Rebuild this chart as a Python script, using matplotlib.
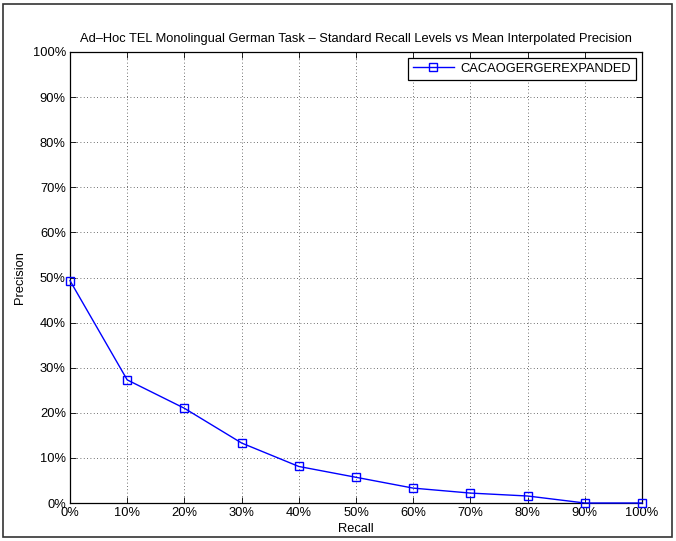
import matplotlib.pyplot as plt
from matplotlib.patches import Rectangle
from matplotlib.ticker import FuncFormatter

plt.rcParams['font.family'] = ['Liberation Sans', 'DejaVu Sans']

recall = [0, 10, 20, 30, 40, 50, 60, 70, 80, 90, 100]
precision = [49.3, 27.3, 21.0, 13.3, 8.1, 5.7, 3.3, 2.2, 1.55, 0.0, 0.0]
run_name = 'CACAOGERGEREXPANDED'

fig = plt.figure(figsize=(6.76, 5.41), dpi=100)
ax = fig.add_axes([70 / 676, 1 - 503 / 541, 572 / 676, 451 / 541])

ax.plot(recall, precision, color='b', linewidth=1.0, marker='s', markersize=6,
        markerfacecolor='none', markeredgecolor='b', markeredgewidth=1.0,
        label=run_name, clip_on=False, zorder=5)

ax.set_xlim(0, 100)
ax.set_ylim(0, 100)
ax.set_xticks(range(0, 101, 10))
ax.set_yticks(range(0, 101, 10))
pct = FuncFormatter(lambda v, p: f'{int(v)}%')
ax.xaxis.set_major_formatter(pct)
ax.yaxis.set_major_formatter(pct)
ax.tick_params(direction='in', top=True, right=True, labelsize=9.3, length=4, width=0.6, pad=3)
ax.grid(True, linestyle=(0, (1, 3)), color='#404040', linewidth=0.6)
for s in ax.spines.values():
    s.set_linewidth(0.9)

ax.set_title('Ad\u2013Hoc TEL Monolingual German Task \u2013 Standard Recall Levels vs Mean Interpolated Precision',
             fontsize=9.3, pad=7)
ax.set_xlabel('Recall', fontsize=9.3, labelpad=3)
ax.set_ylabel('Precision', fontsize=9.3, labelpad=5)

leg = ax.legend(loc='upper right', fontsize=9.3, fancybox=False, framealpha=1,
                edgecolor='black', borderaxespad=0.5, handlelength=3.2,
                borderpad=0.35, handletextpad=0.5)
leg.get_frame().set_linewidth(0.9)

fig.patches.append(Rectangle((3 / 676, 4 / 541), 669 / 676, 533 / 541, transform=fig.transFigure,
                             fill=False, edgecolor='#333333', linewidth=1.2))

fig.savefig('out.png', dpi=100)
